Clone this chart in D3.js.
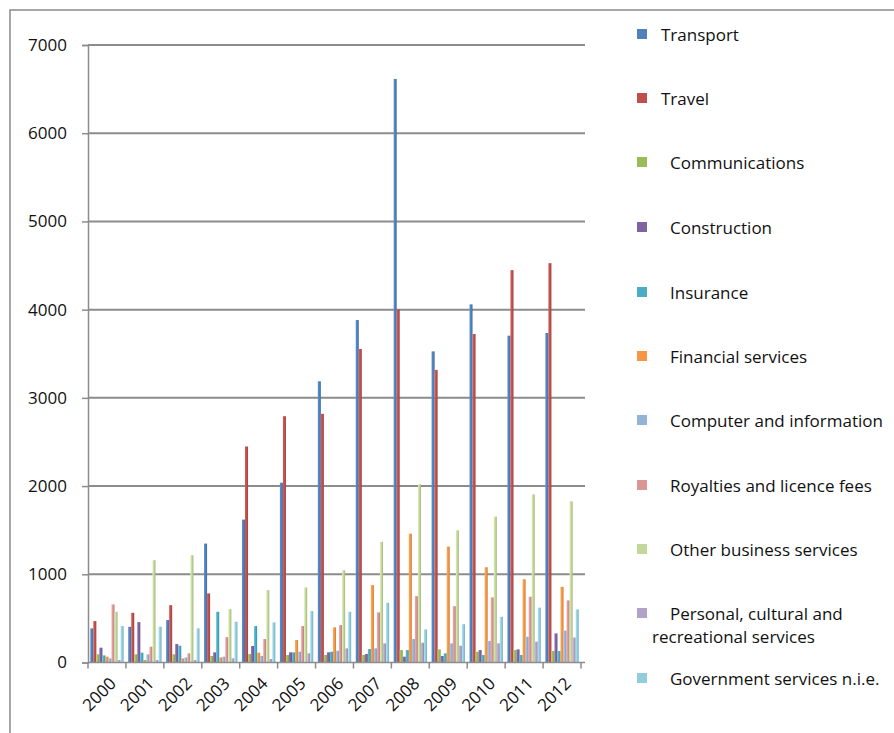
<!DOCTYPE html>
<html><head><meta charset="utf-8">
<script src="https://cdn.jsdelivr.net/npm/d3@7"></script>
<style>html,body{margin:0;padding:0;background:#fff;}svg{display:block;font-family:"Open Sans",sans-serif;}</style>
</head><body>
<svg id="c" width="894" height="733"></svg>
<script>
const years = ["2000","2001","2002","2003","2004","2005","2006","2007","2008","2009","2010","2011","2012"];
const seriesNames = ["Transport","Travel","Communications","Construction","Insurance","Financial services","Computer and information","Royalties and licence fees","Other business services","Personal, cultural and recreational services","Government services n.i.e."];
const transport = [387, 405, 481, 1348, 1620, 2038, 3188, 3882, 6615, 3527, 4060, 3705, 3735];
const travel = [470, 563, 650, 783, 2449, 2792, 2819, 3554, 4002, 3317, 3724, 4448, 4527];
const communications = [93, 93, 93, 74, 96, 85, 85, 85, 141, 149, 122, 141, 130];
const construction = [168, 458, 209, 115, 187, 115, 115, 96, 66, 74, 141, 149, 330];
const insurance = [81, 111, 190, 575, 413, 115, 122, 153, 141, 104, 85, 85, 130];
const financial = [66, 28, 47, 57, 111, 255, 398, 877, 1461, 1314, 1080, 944, 858];
const computer = [47, 93, 57, 66, 74, 122, 133, 160, 266, 217, 245, 292, 362];
const royalties = [658, 179, 104, 288, 266, 413, 424, 568, 752, 639, 738, 745, 704];
const otherBusiness = [575, 1160, 1216, 605, 820, 851, 1046, 1367, 2019, 1499, 1654, 1905, 1827];
const personal = [28, 28, 28, 47, 40, 104, 160, 217, 224, 190, 217, 236, 283];
const government = [413, 405, 387, 462, 455, 583, 575, 677, 375, 434, 518, 622, 602];
const yTicks = [0,1000,2000,3000,4000,5000,6000,7000];
const colors = ["#4F81BD","#C0504D","#9BBB59","#8064A2","#4BACC6","#F79646","#95B3D7","#D99694","#C3D69B","#B3A2C7","#93CDDD"];

const allSeries = [transport, travel, communications, construction, insurance, financial, computer, royalties, otherBusiness, personal, government];

(function(){
const svg = d3.select("#c");
const defs = svg.append("defs");
colors.forEach((c,i)=>{
  const g = defs.append("linearGradient").attr("id","g"+i).attr("x1","0").attr("x2","1").attr("y1","0").attr("y2","0");
  g.append("stop").attr("offset","0").attr("stop-color", d3.color(c).brighter(0.35));
  g.append("stop").attr("offset","0.5").attr("stop-color", c);
  g.append("stop").attr("offset","1").attr("stop-color", d3.color(c).darker(0.5));
});

// frame
svg.append("rect").attr("x",10).attr("y",10).attr("width",900).attr("height",800)
  .attr("fill","none").attr("stroke","#8a8a8a").attr("stroke-width",1.5);

const pLeft = 88, pRight = 581, pTop = 45, pBottom = 662.5;
const x0 = d3.scaleBand().domain(years).range([pLeft, pRight]).paddingInner(0).paddingOuter(0);
const x1 = d3.scaleBand().domain(d3.range(seriesNames.length)).range([0, x0.bandwidth()]).paddingInner(0).paddingOuter(0.75);
const y = d3.scaleLinear().domain([0,7000]).range([pBottom, pTop]);

// gridlines
svg.append("g").selectAll("line").data(yTicks.filter(t=>t>0)).join("line")
  .attr("x1", pLeft).attr("x2", 585).attr("y1", d=>y(d)).attr("y2", d=>y(d))
  .attr("stroke","#8c8c8c").attr("stroke-width",2);

// bars
const groups = svg.append("g").selectAll("g").data(years).join("g")
  .attr("transform", d=>`translate(${x0(d)},0)`);
groups.selectAll("rect").data((d,yi)=>allSeries.map((s,si)=>({si, v:s[yi]}))).join("rect")
  .attr("x", d=>x1(d.si)).attr("width", x1.bandwidth())
  .attr("y", d=>y(d.v)).attr("height", d=>y(0)-y(d.v))
  .attr("fill", d=>`url(#g${d.si})`);

// y axis
const yAxis = d3.axisLeft(y).tickValues(yTicks).tickSize(6).tickPadding(15).tickFormat(d3.format("d"));
const ya = svg.append("g").attr("transform",`translate(${pLeft},0)`).call(yAxis);
ya.select(".domain").attr("stroke","#8c8c8c").attr("stroke-width",1.5);
ya.selectAll(".tick line").attr("stroke","#8c8c8c").attr("stroke-width",1.5);
ya.selectAll(".tick text").attr("font-size",17).attr("fill","#111").attr("font-family","Open Sans");

// x axis
const xa = svg.append("g").attr("transform",`translate(0,${pBottom})`);
xa.append("line").attr("x1",pLeft).attr("x2",pRight+4).attr("y1",0).attr("y2",0).attr("stroke","#8c8c8c").attr("stroke-width",1.5);
xa.selectAll("line.t").data(years.concat(["end"])).join("line").attr("class","t")
  .attr("x1",(d,i)=>pLeft + i*x0.step()).attr("x2",(d,i)=>pLeft + i*x0.step())
  .attr("y1",0).attr("y2",6).attr("stroke","#8c8c8c").attr("stroke-width",1.5);
xa.selectAll("text").data(years).join("text")
  .attr("transform", d=>`translate(${x0(d)+x0.bandwidth()/2+6},${18}) rotate(-45)`)
  .attr("text-anchor","end").attr("dy","0.35em").attr("font-size",17).attr("fill","#111")
  .text(d=>d);

// legend
const legY = [35,99,163,228,293,357,421,486,550,614,679];
const lg = svg.append("g").attr("fill","#111").selectAll("g").data(seriesNames).join("g");
lg.append("rect").attr("x",637).attr("y",(d,i)=>legY[i]-6).attr("width",10).attr("height",10)
  .attr("fill",(d,i)=>colors[i]);
lg.each(function(d,i){
  const g = d3.select(this);
  const tx = i<2 ? 661 : 670;
  if(i===9){
    g.append("text").attr("x",670).attr("y",legY[i]).attr("dy","0.35em").attr("font-size",17).text("Personal, cultural and");
    g.append("text").attr("x",652).attr("y",legY[i]+23).attr("dy","0.35em").attr("font-size",17).text("recreational services");
  } else {
    g.append("text").attr("x",tx).attr("y",legY[i]).attr("dy","0.35em").attr("font-size",17).text(d);
  }
});
})();
</script>
</body></html>
